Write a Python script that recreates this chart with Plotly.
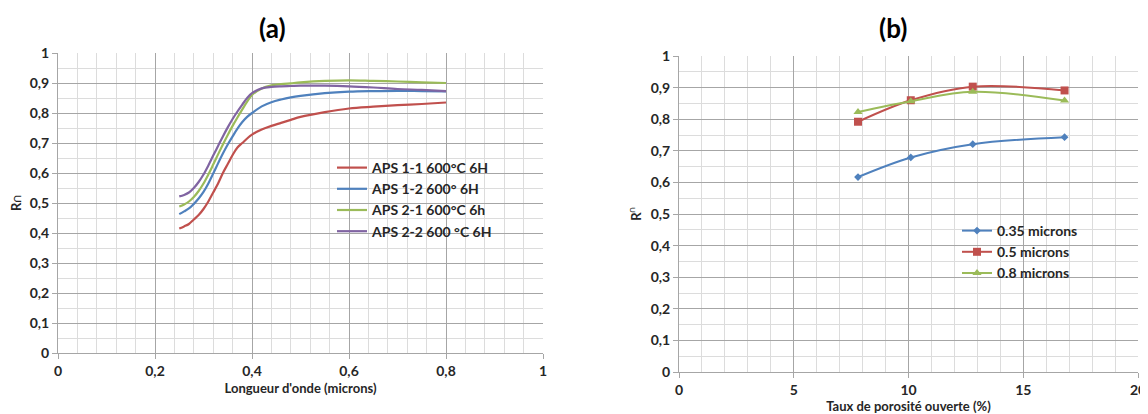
import plotly.graph_objects as go

# ---------- Panel (a) data ----------
wavelength = [0.25, 0.26, 0.27, 0.28, 0.29, 0.30, 0.31, 0.32, 0.33, 0.34, 0.35, 0.36, 0.37, 0.38, 0.39,
              0.40, 0.42, 0.44, 0.46, 0.48, 0.50, 0.55, 0.60, 0.65, 0.70, 0.75, 0.80]
aps_1_1 = [0.415, 0.422, 0.430, 0.445, 0.460, 0.480, 0.505, 0.535, 0.565, 0.600, 0.630, 0.660, 0.685, 0.700, 0.715,
           0.728, 0.745, 0.757, 0.767, 0.777, 0.787, 0.803, 0.815, 0.821, 0.826, 0.830, 0.835]
aps_1_2 = [0.463, 0.472, 0.482, 0.497, 0.515, 0.537, 0.565, 0.598, 0.632, 0.665, 0.695, 0.722, 0.748, 0.770, 0.787,
           0.800, 0.822, 0.836, 0.845, 0.852, 0.857, 0.866, 0.871, 0.873, 0.874, 0.873, 0.872]
aps_2_1 = [0.488, 0.495, 0.505, 0.520, 0.540, 0.565, 0.595, 0.628, 0.662, 0.695, 0.727, 0.757, 0.785, 0.812, 0.838,
           0.860, 0.882, 0.892, 0.896, 0.899, 0.902, 0.907, 0.909, 0.907, 0.905, 0.902, 0.900]
aps_2_2 = [0.522, 0.527, 0.535, 0.550, 0.570, 0.595, 0.625, 0.658, 0.690, 0.722, 0.752, 0.780, 0.805, 0.828, 0.850,
           0.866, 0.882, 0.887, 0.889, 0.890, 0.891, 0.891, 0.889, 0.885, 0.880, 0.877, 0.873]
names_a = ["APS 1-1 600°C 6H", "APS 1-2 600° 6H", "APS 2-1 600°C 6h", "APS 2-2 600 °C 6H"]

# ---------- Panel (b) data ----------
porosity = [7.8, 10.1, 12.8, 16.8]
r_035 = [0.617, 0.679, 0.721, 0.743]
r_05 = [0.792, 0.860, 0.903, 0.891]
r_08 = [0.823, 0.857, 0.887, 0.859]
names_b = ["0.35 microns", "0.5 microns", "0.8 microns"]

# ---------- Tick labels ----------
r_ticks = [0, 0.1, 0.2, 0.3, 0.4, 0.5, 0.6, 0.7, 0.8, 0.9, 1]
r_tick_labels = ["0", "0,1", "0,2", "0,3", "0,4", "0,5", "0,6", "0,7", "0,8", "0,9", "1"]
wl_ticks = [0, 0.2, 0.4, 0.6, 0.8, 1]
wl_tick_labels = ["0", "0,2", "0,4", "0,6", "0,8", "1"]
por_ticks = [0, 5, 10, 15, 20]
por_tick_labels = ["0", "5", "10", "15", "20"]

RED, BLUE, GREEN, PURPLE = "#c0504d", "#4f81bd", "#9bbb59", "#8064a2"
FONT = "Lato"
TXT = "#262626"

fig = go.Figure()

for ys, name, col in zip([aps_1_1, aps_1_2, aps_2_1, aps_2_2], names_a, [RED, BLUE, GREEN, PURPLE]):
    fig.add_trace(go.Scatter(x=wavelength, y=ys, name=f"<b>{name}</b>", mode="lines",
                             line=dict(color=col, width=2.2, shape="spline"),
                             xaxis="x", yaxis="y", legend="legend"))

for ys, name, col, sym, sz in zip([r_035, r_05, r_08], names_b, [BLUE, RED, GREEN],
                                  ["diamond", "square", "triangle-up"], [6, 8, 8]):
    fig.add_trace(go.Scatter(x=porosity, y=ys, name=f"<b>{name}</b>", mode="lines+markers",
                             line=dict(color=col, width=2, shape="spline"),
                             marker=dict(symbol=sym, size=sz, color=col),
                             xaxis="x2", yaxis="y2", legend="legend2"))

# page body has an 8px margin: figure sized so it fits the 1148x414 window
OFF = 8
W, H = 1148 - OFF, 414 - OFF
def px_x(p):
    return (p - OFF) / W
def px_y(p):
    return (H - (p - OFF)) / H

def bold(labels):
    return [f"<b>{t}</b>" for t in labels]

major = "#a6a6a6"
minor = "#dcdcdc"
tickfont = dict(family=FONT, size=14, color=TXT)
titlefont = dict(family=FONT, size=13, color=TXT)

common = dict(showline=True, linecolor=major, linewidth=1, gridcolor=major, gridwidth=1,
              ticks="outside", ticklen=5, tickcolor=major, tickfont=tickfont, zeroline=False,
              mirror=False, automargin=False, tickmode="array")

fig.update_layout(
    width=W, height=H,
    margin=dict(l=0, r=0, t=0, b=0),
    paper_bgcolor="white", plot_bgcolor="white",
    font=dict(family=FONT, color=TXT),
    showlegend=True,
    xaxis=dict(domain=[px_x(58), px_x(543)], range=[0, 1], anchor="y",
               tickvals=wl_ticks, ticktext=bold(wl_tick_labels),
               minor=dict(dtick=0.04, showgrid=True, gridcolor=minor, gridwidth=1, tickmode="linear", tick0=0),
               title=dict(text="<b>Longueur d'onde (microns)</b>", font=titlefont, standoff=6), **common),
    yaxis=dict(domain=[px_y(353), px_y(53)], range=[0, 1], anchor="x",
               tickvals=r_ticks, ticktext=bold(r_tick_labels),
               minor=dict(dtick=0.05, showgrid=True, gridcolor=minor, gridwidth=1, tickmode="linear", tick0=0),
               title=dict(text="<b>R∩</b>", font=titlefont, standoff=8), **common),
    xaxis2=dict(domain=[px_x(679), px_x(1138)], range=[0, 20], anchor="y2",
                tickvals=por_ticks, ticktext=bold(por_tick_labels),
                minor=dict(dtick=1, showgrid=True, gridcolor=minor, gridwidth=1, tickmode="linear", tick0=0),
                title=dict(text="<b>Taux de porosité ouverte (%)</b>", font=titlefont, standoff=2), **common),
    yaxis2=dict(domain=[px_y(372), px_y(56)], range=[0, 1], anchor="x2",
                tickvals=r_ticks, ticktext=bold(r_tick_labels),
                minor=dict(dtick=0.05, showgrid=True, gridcolor=minor, gridwidth=1, tickmode="linear", tick0=0),
                title=dict(text="<b>R<sup>∩</sup></b>", font=titlefont, standoff=6), **common),
    legend=dict(x=px_x(332), y=px_y(152), xanchor="left", yanchor="top",
                bgcolor="rgba(0,0,0,0)", font=dict(family=FONT, size=14, color=TXT),
                itemwidth=30, tracegroupgap=0),
    legend2=dict(x=px_x(957), y=px_y(215), xanchor="left", yanchor="top",
                 bgcolor="rgba(0,0,0,0)", font=dict(family=FONT, size=14, color=TXT),
                 itemwidth=30, tracegroupgap=0),
    annotations=[
        dict(text="<b>(a)</b>", x=px_x(272), y=px_y(28), xref="paper", yref="paper", showarrow=False,
             xanchor="center", yanchor="middle",
             font=dict(family=FONT, size=26, color="black")),
        dict(text="<b>(b)</b>", x=px_x(893), y=px_y(28), xref="paper", yref="paper", showarrow=False,
             xanchor="center", yanchor="middle",
             font=dict(family=FONT, size=26, color="black")),
    ],
)

fig.write_html("out.html")
